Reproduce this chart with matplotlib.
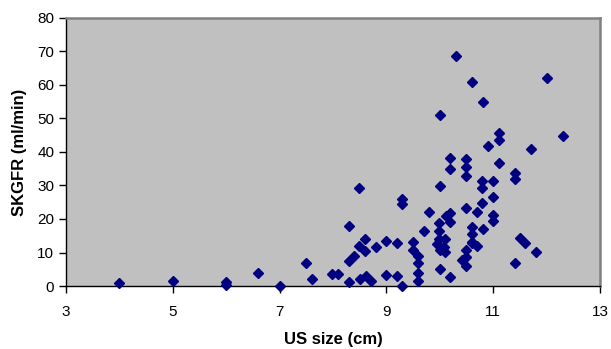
import numpy as np
import matplotlib.pyplot as plt

plt.rcParams['font.family'] = ['Liberation Sans', 'DejaVu Sans']

# US size (cm) and SKGFR (ml/min)
us_size = [4.0, 5.0, 6.0, 6.0, 6.6, 7.0, 7.49, 7.6, 7.99, 8.1,
           8.3, 8.3, 8.3, 8.4, 8.49, 8.49, 8.51, 8.6, 8.6, 8.61,
           8.71, 8.81, 8.99, 8.99, 9.2, 9.2, 9.29, 9.29, 9.3, 9.5,
           9.5, 9.6, 9.6, 9.6, 9.6, 9.7, 9.8, 9.95, 9.99, 9.99,
           9.99, 10.0, 10.0, 10.0, 10.01, 10.07, 10.1, 10.1, 10.11, 10.2,
           10.2, 10.2, 10.2, 10.2, 10.3, 10.41, 10.5, 10.5, 10.5, 10.5,
           10.5, 10.5, 10.5, 10.6, 10.6, 10.6, 10.6, 10.6, 10.7, 10.7,
           10.79, 10.79, 10.79, 10.8, 10.8, 10.9, 11.0, 11.0, 11.0, 11.0,
           11.1, 11.1, 11.1, 11.4, 11.4, 11.4, 11.5, 11.6, 11.7, 11.8,
           12.0, 12.3]
skgfr = [0.8, 1.6, 1.3, 0.3, 3.8, 0.0, 6.8, 2.2, 3.6, 3.6,
         17.9, 7.5, 1.3, 9.1, 29.2, 11.9, 2.0, 13.9, 10.4, 3.0,
         1.6, 11.5, 13.5, 3.3, 12.9, 3.0, 25.9, 24.4, 0.0, 13.2,
         10.7, 9.0, 6.8, 4.0, 1.6, 16.4, 22.0, 12.4, 18.7, 16.4,
         13.9, 10.7, 5.0, 51.0, 29.9, 11.7, 13.9, 10.2, 21.0, 38.1,
         34.8, 21.7, 19.2, 2.6, 68.7, 7.8, 37.9, 35.4, 32.8, 23.2,
         10.7, 8.6, 6.0, 61.0, 17.7, 15.5, 13.2, 12.7, 22.0, 12.0,
         31.3, 29.3, 24.7, 55.0, 17.1, 41.8, 31.4, 26.7, 21.2, 19.5,
         45.8, 43.6, 36.6, 33.6, 31.8, 7.0, 14.2, 12.7, 40.9, 10.2,
         62.0, 44.9]

xticks = [3, 5, 7, 9, 11, 13]
yticks = [0, 10, 20, 30, 40, 50, 60, 70, 80]

fig = plt.figure(figsize=(6.11, 3.49), dpi=100)
ax = fig.add_axes([0.108, 0.1805, 0.874, 0.768])
ax.set_facecolor('#C0C0C0')

ax.plot(us_size, skgfr, linestyle='none', marker='D', ms=5.2,
        color='#000080', clip_on=False, zorder=3)

ax.set_xlim(3, 13)
ax.set_ylim(0, 80)
ax.set_xticks(xticks)
ax.set_yticks(yticks)
ax.tick_params(direction='out', length=5, width=1, labelsize=11, colors='black')
ax.tick_params(axis='x', pad=9)

for s in ['left', 'bottom']:
    ax.spines[s].set_color('black')
    ax.spines[s].set_linewidth(1)
for s in ['top', 'right']:
    ax.spines[s].set_color('#808080')
    ax.spines[s].set_linewidth(1.8)

ax.set_xlabel('US size (cm)', fontsize=12, fontweight='bold', labelpad=9)
ax.set_ylabel('SKGFR (ml/min)', fontsize=12, fontweight='bold', labelpad=7)

fig.savefig('out.png', dpi=100)
